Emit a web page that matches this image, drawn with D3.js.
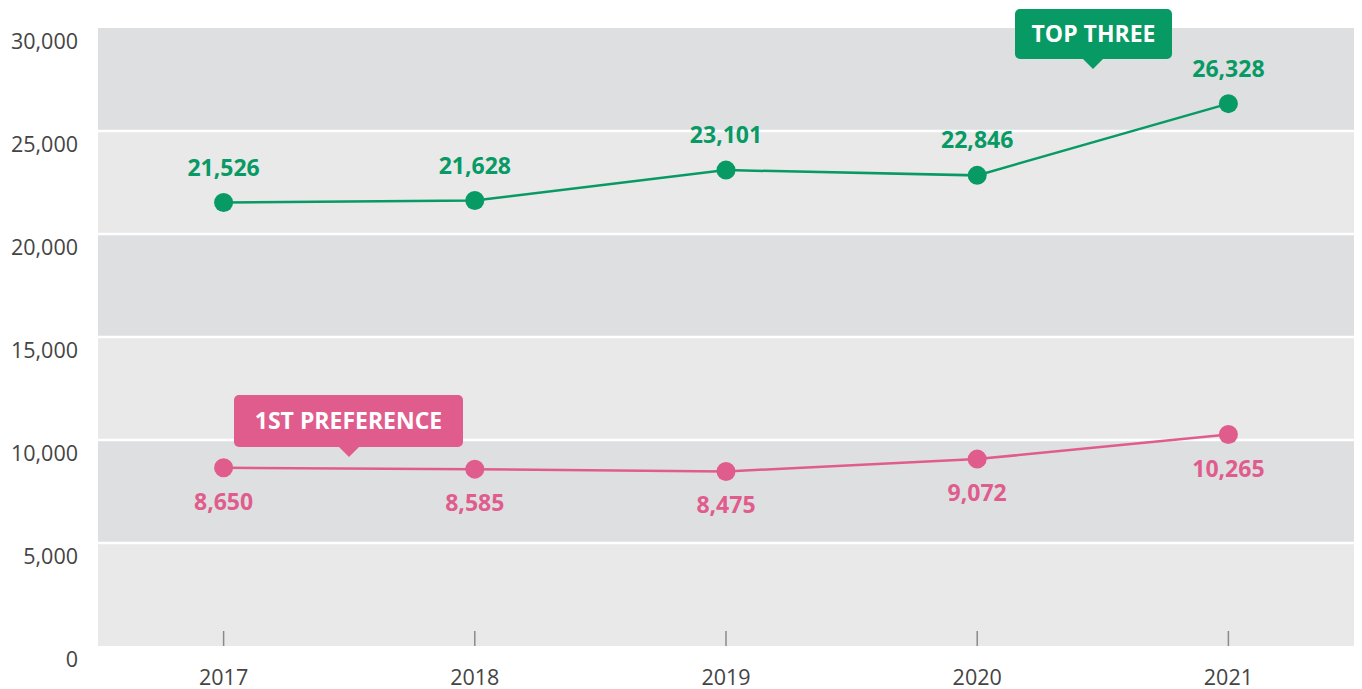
<!DOCTYPE html>
<html>
<head>
<meta charset="utf-8">
<script src="https://cdn.jsdelivr.net/npm/d3@7"></script>
<style>
  body { margin: 0; background: #fff; }
  svg { display: block; font-family: "Open Sans", "Noto Sans", sans-serif; }
</style>
</head>
<body>
<svg width="1362" height="689"></svg>
<script>
// data
var years = ["2017", "2018", "2019", "2020", "2021"];
var topThree = [21526, 21628, 23101, 22846, 26328];
var firstPref = [8650, 8585, 8475, 9072, 10265];
var yTicks = [0, 5000, 10000, 15000, 20000, 25000, 30000];

var svg = d3.select("svg");
var plotLeft = 98, plotRight = 1354, plotTop = 28, plotBottom = 646;

var x = d3.scalePoint().domain(years).range([plotLeft, plotRight]).padding(0.5);
var y = d3.scaleLinear().domain([0, 30000]).range([plotBottom, plotTop]);
var fmt = d3.format(",");

// background bands
var bands = d3.range(yTicks.length - 1);
svg.append("g").selectAll("rect")
    .data(bands)
    .enter().append("rect")
    .attr("x", plotLeft)
    .attr("width", plotRight - plotLeft)
    .attr("y", function (i) { return y(yTicks[i + 1]); })
    .attr("height", function (i) { return y(yTicks[i]) - y(yTicks[i + 1]); })
    .attr("fill", function (i) { return i % 2 == 0 ? "#e9e9e9" : "#dedfe1"; });

// white separators
svg.append("g").selectAll("line")
    .data(yTicks.slice(1, -1))
    .enter().append("line")
    .attr("x1", plotLeft).attr("x2", plotRight)
    .attr("y1", function (d) { return y(d); })
    .attr("y2", function (d) { return y(d); })
    .attr("stroke", "#fff")
    .attr("stroke-width", 2.5);

// y labels
svg.append("g").selectAll("text")
    .data(yTicks)
    .enter().append("text")
    .attr("x", 78)
    .attr("y", function (d) { return y(d) + 13; })
    .attr("dy", "0.35em")
    .attr("text-anchor", "end")
    .attr("fill", "#444")
    .attr("font-size", "21.5px")
    .text(function (d) { return fmt(d); });

// x ticks & labels
var xg = svg.append("g");
xg.selectAll("line")
    .data(years)
    .enter().append("line")
    .attr("x1", function (d) { return x(d); })
    .attr("x2", function (d) { return x(d); })
    .attr("y1", plotBottom - 15).attr("y2", plotBottom)
    .attr("stroke", "#8a8a8a")
    .attr("stroke-width", 1.5);
xg.selectAll("text")
    .data(years)
    .enter().append("text")
    .attr("x", function (d) { return x(d); })
    .attr("y", 677)
    .attr("dy", "0.35em")
    .attr("text-anchor", "middle")
    .attr("fill", "#444")
    .attr("font-size", "21.5px")
    .text(function (d) { return d; });

function drawSeries(vals, color, labelOffset) {
    var pts = vals.map(function (v, i) { return { year: years[i], value: v }; });
    var line = d3.line()
        .x(function (d) { return x(d.year); })
        .y(function (d) { return y(d.value); });
    var g = svg.append("g");
    g.append("path")
        .datum(pts)
        .attr("d", line)
        .attr("fill", "none")
        .attr("stroke", color)
        .attr("stroke-width", 2.5);
    g.selectAll("circle")
        .data(pts)
        .enter().append("circle")
        .attr("cx", function (d) { return x(d.year); })
        .attr("cy", function (d) { return y(d.value); })
        .attr("r", 9.5)
        .attr("fill", color);
    g.selectAll("text")
        .data(pts)
        .enter().append("text")
        .attr("x", function (d) { return x(d.year); })
        .attr("y", function (d) { return y(d.value) + labelOffset; })
        .attr("dy", "0.35em")
        .attr("text-anchor", "middle")
        .attr("fill", color)
        .attr("font-size", "23px")
        .attr("font-weight", "bold")
        .text(function (d) { return fmt(d.value); });
}

drawSeries(topThree, "#079a64", -35);
drawSeries(firstPref, "#e05c8d", 34);

// callout boxes
function callout(text, color, bx, by, bw, bh, tipX) {
    var g = svg.append("g");
    g.append("rect")
        .attr("x", bx).attr("y", by)
        .attr("width", bw).attr("height", bh)
        .attr("rx", 5)
        .attr("fill", color);
    g.append("path")
        .attr("d", "M" + (tipX - 11) + "," + (by + bh - 1) + "L" + tipX + "," + (by + bh + 10) + "L" + (tipX + 11) + "," + (by + bh - 1) + "Z")
        .attr("fill", color);
    g.append("text")
        .attr("x", bx + bw / 2)
        .attr("y", by + bh / 2)
        .attr("dy", "0.35em")
        .attr("text-anchor", "middle")
        .attr("fill", "#fff")
        .attr("font-size", "23px")
        .attr("font-weight", "bold")
        .text(text);
}

callout("TOP THREE", "#079a64", 1015, 9, 157, 50, 1093);
callout("1ST PREFERENCE", "#e05c8d", 234, 395, 229, 52, 349);
</script>
</body>
</html>
